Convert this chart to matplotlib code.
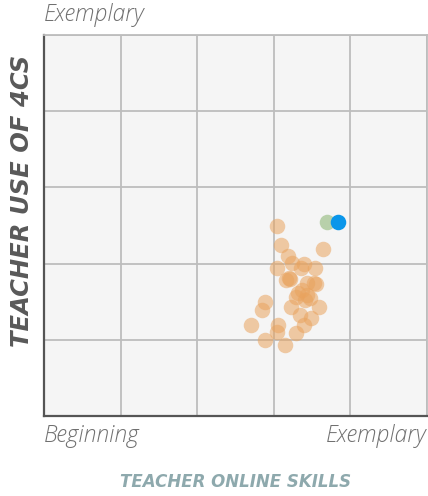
import matplotlib.pyplot as plt

# teacher scores (0 = beginning, 5 = exemplary)
online_skills = [3.04, 3.09, 3.64, 3.19, 3.04, 3.24, 3.39, 3.35, 3.54, 3.20,
                 3.21, 3.43, 3.52, 3.32, 3.43, 3.41, 2.89, 2.84, 3.23, 3.59,
                 3.34, 3.49, 2.70, 3.05, 3.04, 3.39, 3.29, 2.89, 3.15, 3.37,
                 3.29, 3.47, 3.16, 3.55]
use_of_4cs = [2.49, 2.24, 2.19, 2.10, 1.94, 2.01, 1.99, 1.94, 1.94, 1.81,
              1.80, 1.75, 1.75, 1.61, 1.59, 1.52, 1.50, 1.39, 1.43, 1.43,
              1.33, 1.28, 1.19, 1.19, 1.10, 1.19, 1.09, 1.00, 0.93, 1.65,
              1.56, 1.55, 1.78, 1.73]

avg_x, avg_y = [3.69], [2.54]
mine_x, mine_y = [3.84], [2.54]

fig = plt.figure(figsize=(4.28, 4.96), dpi=100)
ax = fig.add_axes([44 / 428, 80 / 496, 383 / 428, 381 / 496])
ax.set_facecolor('#f5f5f5')

ax.scatter(online_skills, use_of_4cs, s=125, color='#e9a35e', alpha=0.55,
           linewidths=0, zorder=3)
ax.scatter(avg_x, avg_y, s=125, color='#9fc18a', alpha=0.7, linewidths=0, zorder=4)
ax.scatter(mine_x, mine_y, s=125, color='#0a96ea', linewidths=0, zorder=5)

ax.set_xlim(0, 5)
ax.set_ylim(0, 5)
ax.set_xticks([1, 2, 3, 4, 5])
ax.set_yticks([1, 2, 3, 4, 5])
ax.tick_params(length=0, labelbottom=False, labelleft=False)
ax.grid(True, color='#bdbdbd', linewidth=1.3)
ax.set_axisbelow(True)

for side in ['top', 'right']:
    ax.spines[side].set_color('#bdbdbd')
    ax.spines[side].set_linewidth(1.3)
for side in ['left', 'bottom']:
    ax.spines[side].set_color('#555555')
    ax.spines[side].set_linewidth(1.6)

lbl = dict(color='#707070', fontsize=16.5, style='italic', family='Open Sans',
           fontweight='light')
fig.text(44 / 428, 1 - 15 / 496, 'Exemplary', ha='left', va='center', **lbl)
fig.text(44 / 428, 1 - 436 / 496, 'Beginning', ha='left', va='center', **lbl)
fig.text(427 / 428, 1 - 436 / 496, 'Exemplary', ha='right', va='center', **lbl)

fig.text(22 / 428, 1 - 201 / 496, 'TEACHER USE OF 4CS', rotation=90,
         ha='center', va='center', color='#595959', fontsize=17.5,
         fontweight='bold', style='italic', family='DejaVu Sans')
fig.text(236 / 428, 1 - 482 / 496, 'TEACHER ONLINE SKILLS', ha='center',
         va='center', color='#8ea9ad', fontsize=12, fontweight='bold',
         style='italic', family='DejaVu Sans')

fig.savefig('out.png', dpi=100)
